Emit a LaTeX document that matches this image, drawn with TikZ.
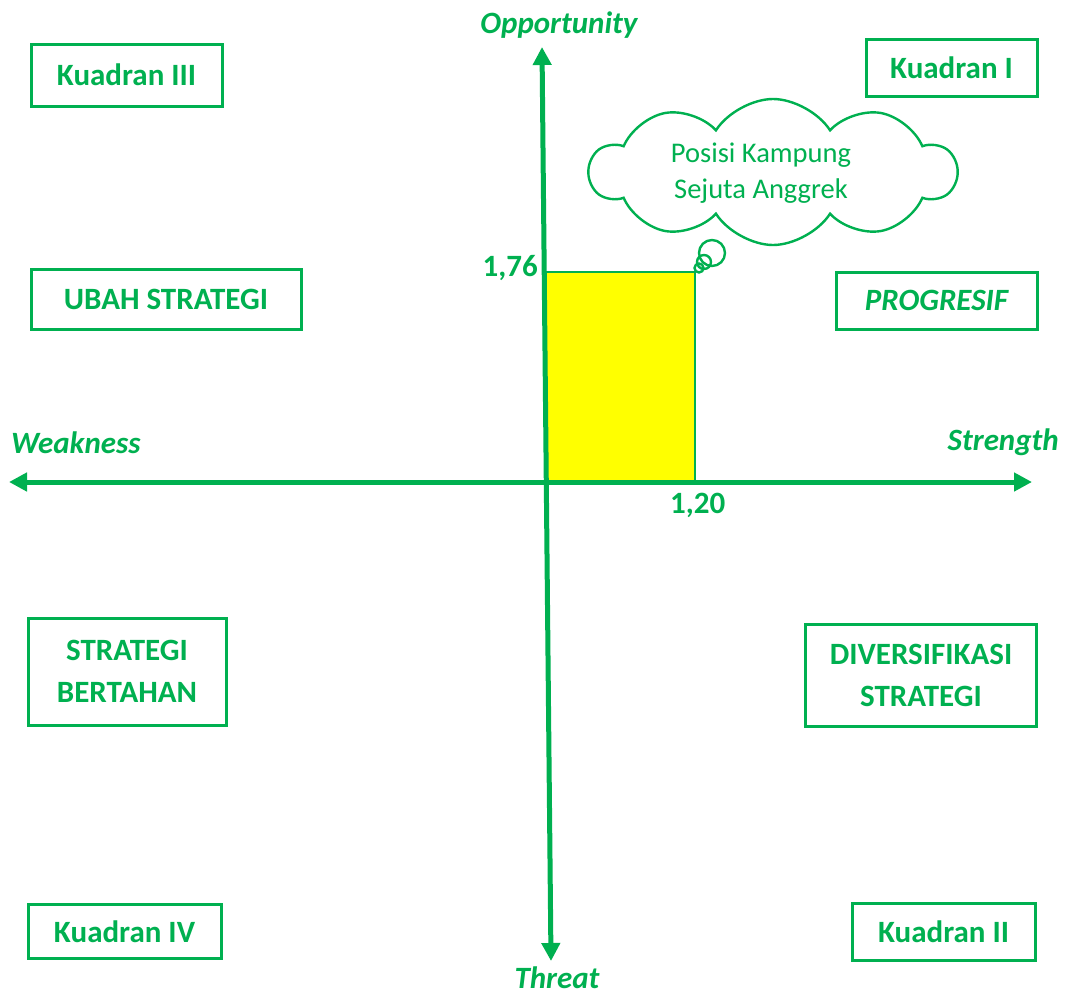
\documentclass[tikz,border=0pt]{standalone}
\usepackage{fontspec}
\setmainfont{Carlito}
\usetikzlibrary{arrows.meta,shapes.symbols}
\definecolor{swotgreen}{HTML}{00B050}
\definecolor{swotyellow}{HTML}{FFFF00}
\begin{document}
\begin{tikzpicture}[x=1pt,y=-1pt,
  lbl/.style={text=swotgreen,inner sep=0pt,font=\fontsize{31}{37}\selectfont\bfseries},
  ilbl/.style={lbl,font=\fontsize{31}{37}\selectfont\bfseries\itshape},
  quadbox/.style={draw=swotgreen,line width=3pt,text=swotgreen,inner sep=0pt,
    align=center,font=\fontsize{31}{42}\selectfont\bfseries},
  axis/.style={draw=swotgreen,line width=5pt,
    {Triangle[length=18pt,width=18pt]}-{Triangle[length=18pt,width=18pt]}},
  bubble/.style={draw=swotgreen,line width=2.4pt,fill=white}]
\useasboundingbox (0,0) rectangle (1065,993);

% position of the case in the strength/opportunity quadrant
\node[draw=swotgreen,line width=2pt,fill=swotyellow,inner sep=0pt,
  minimum width=149pt,minimum height=210pt] (pos) at (620.5,377) {};

% axes
\coordinate (W) at (9,482);
\coordinate (S) at (1032,482);
\coordinate (O) at (542,47);
\coordinate (T) at (551,961);
\draw[axis] (W) -- (S);
\draw[axis] (O) -- (T);

% axis labels
\node[ilbl,anchor=base] (opp) at (559,33) {Opportunity};
\node[ilbl,anchor=base west] (weak) at (11,453) {Weakness};
\node[ilbl,anchor=base east] (str) at (1059,450) {Strength};
\node[ilbl,anchor=base] (thr) at (557,988) {Threat};

% coordinate values
\node[lbl,anchor=base east] (v176) at (538,276) {1,76};
\node[lbl,anchor=base west] (v120) at (670,513) {1,20};

% quadrant boxes
\node[quadbox,minimum width=191pt,minimum height=62pt] (k3) at (126.5,75) {Kuadran III};
\node[quadbox,minimum width=270pt,minimum height=60pt] (ubah) at (166,299) {UBAH STRATEGI};
\node[quadbox,minimum width=171pt,minimum height=57pt] (k1) at (951.5,67.5) {Kuadran I};
\node[quadbox,minimum width=201pt,minimum height=57pt,font=\fontsize{31}{42}\selectfont\bfseries\itshape] (prog) at (936.5,300.5) {PROGRESIF};
\node[quadbox,minimum width=198pt,minimum height=107pt] (bertahan) at (127,671.5) {STRATEGI\\BERTAHAN};
\node[quadbox,minimum width=231pt,minimum height=102pt] (div) at (921,675.5) {DIVERSIFIKASI\\STRATEGI};
\node[quadbox,minimum width=193pt,minimum height=54pt] (k4) at (124.5,931.5) {Kuadran IV};
\node[quadbox,minimum width=183pt,minimum height=57pt] (k2) at (943.5,931.5) {Kuadran II};

% thought bubble
\node[cloud,cloud puffs=10,cloud puff arc=115,cloud ignores aspect,bubble,
  minimum width=366pt,minimum height=146pt,inner sep=0pt] (cloud) at (773,172) {};
\node[bubble,circle,minimum size=26pt,inner sep=0pt,fill=none] (b1) at (712,253) {};
\node[bubble,circle,minimum size=14pt,inner sep=0pt,fill=none] (b2) at (704,262) {};
\node[bubble,circle,minimum size=9pt,inner sep=0pt,fill=none] (b3) at (699,268) {};
\node[text=swotgreen,inner sep=0pt,align=center,
  font=\fontsize{28.5}{36}\selectfont] (ctext) at (761,173) {Posisi Kampung\\Sejuta Anggrek};
\end{tikzpicture}
\end{document}
